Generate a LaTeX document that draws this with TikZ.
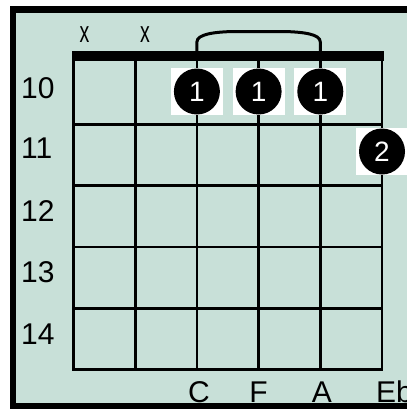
\documentclass[tikz,border=0pt]{standalone}
\usepackage{fontspec}
\setmainfont{Liberation Sans}
\definecolor{bg}{RGB}{200,224,216}
\begin{document}
\begin{tikzpicture}[x=1pt,y=-1pt,
  gridline/.style={line width=2.7pt},
  lbl/.style={inner sep=0pt,font=\fontsize{30}{30}\selectfont},
  fingerdot/.style={circle,fill=black,minimum size=46pt,inner sep=0pt,text=white,font=\fontsize{28}{28}\selectfont},
  wsq/.style={fill=white,draw=none,minimum width=52pt,minimum height=47pt,inner sep=0pt}]
\useasboundingbox (0,0) rectangle (407,410);
\clip (0,0) rectangle (407,410);
\fill[white] (0,0) rectangle (407,410);
\filldraw[fill=bg,draw=black,line width=6.5pt] (13,9.5) rectangle (440,406);
% strings
\foreach \x in {73.5,135.2,196.9,258.6,320.3,382} \draw[gridline] (\x,51) -- (\x,371);
% frets
\foreach \y in {124.7,185.8,247.1,308.4,369.7} \draw[gridline] (72.2,\y) -- (383.3,\y);
% nut
\fill (72,51) rectangle (384,60.5);
% barre arc
\coordinate (b1) at (196.9,52);
\coordinate (b2) at (320.3,52);
\draw[line width=3pt] (b1) -- (196.9,42) .. controls (196.9,34) and (215,32) .. (233,31.5) -- (284,31.5) .. controls (303,32) and (320.3,34) .. (320.3,42) -- (b2);
% muted markers
\node[lbl] (m1) at (84.5,35) {\scalebox{0.65}[1]{x}};
\node[lbl] (m2) at (145,35) {\scalebox{0.65}[1]{x}};
% fret numbers
\node[lbl,anchor=west] (f10) at (21,88) {10};
\node[lbl,anchor=west] (f11) at (21,148) {11};
\node[lbl,anchor=west] (f12) at (21,211) {12};
\node[lbl,anchor=west] (f13) at (21,272) {13};
\node[lbl,anchor=west] (f14) at (21,334) {14};
% finger dots
\node[wsq] (s1) at (196.9,91.5) {};
\node[wsq] (s2) at (258.6,91.5) {};
\node[wsq] (s3) at (320.3,91.5) {};
\node[wsq] (s4) at (382,151.5) {};
\node[fingerdot] (d1) at (196.9,91.5) {1};
\node[fingerdot] (d2) at (258.6,91.5) {1};
\node[fingerdot] (d3) at (320.3,91.5) {1};
\node[fingerdot] (d4) at (382,151.5) {2};
% note names
\node[lbl] (nC) at (199,392) {C};
\node[lbl] (nF) at (258.5,392) {F};
\node[lbl] (nA) at (322,392) {A};
\node[lbl,anchor=west] (nEb) at (376,392) {Eb};
\end{tikzpicture}
\end{document}
